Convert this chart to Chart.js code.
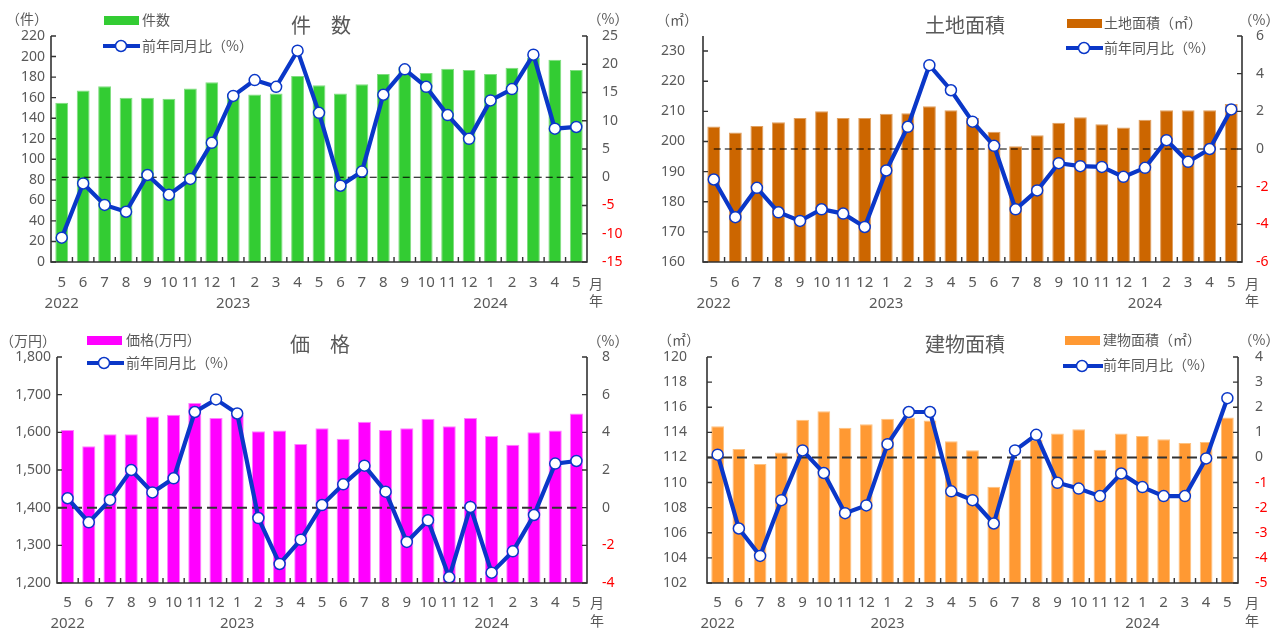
<!DOCTYPE html>
<html><head><meta charset="utf-8">
<script src="https://cdn.jsdelivr.net/npm/chart.js@4/dist/chart.umd.min.js"></script>
<style>
html,body{margin:0;padding:0;background:#fff;}
#wrap{position:relative;width:1282px;height:632px;overflow:hidden;background:#fff;}
canvas{position:absolute;}
</style></head><body><div id="wrap">
<canvas id="c1" width="641" height="316" style="left:0;top:0"></canvas>
<canvas id="c2" width="641" height="316" style="left:641px;top:0"></canvas>
<canvas id="c3" width="641" height="316" style="left:0;top:316px"></canvas>
<canvas id="c4" width="641" height="316" style="left:641px;top:316px"></canvas>
</div>
<script>
const months = ['5','6','7','8','9','10','11','12','1','2','3','4','5','6','7','8','9','10','11','12','1','2','3','4','5'];
const yearLabels = ['2022','2023','2024'];
const yearIndex = [0, 8, 20];

const countBars = [155,167,171,160,160,159,169,175,162,163,164,181,172,164,173,183,190,184,188,187,183,189,199,197,187];
const countYoY = [-10.7,-1.1,-4.9,-6.1,0.4,-3.1,-0.3,6.1,14.4,17.2,16.0,22.4,11.4,-1.5,1.0,14.6,19.1,16.0,11.0,6.8,13.6,15.6,21.7,8.6,8.9];

const landBars = [205,203,205.1,206.4,207.8,210,207.8,207.8,209.2,209.4,211.7,210.4,207.8,203.2,198.4,202.1,206.2,208,205.7,204.6,207.2,210.4,210.4,210.4,212.4];
const landYoY = [-1.62,-3.62,-2.06,-3.36,-3.82,-3.2,-3.43,-4.14,-1.14,1.18,4.45,3.12,1.45,0.17,-3.2,-2.2,-0.75,-0.91,-0.95,-1.48,-1.0,0.47,-0.68,0.0,2.1];

const priceBars = [1606,1563,1595,1595,1642,1647,1678,1638,1647,1603,1605,1569,1611,1583,1628,1606,1611,1636,1616,1638,1590,1567,1600,1605,1650];
const priceYoY = [0.5,-0.78,0.41,2.0,0.81,1.56,5.08,5.75,5.0,-0.55,-2.99,-1.7,0.14,1.24,2.23,0.85,-1.82,-0.67,-3.7,0.04,-3.45,-2.32,-0.39,2.34,2.48];

const bldgBars = [114.48,112.67,111.48,112.4,115.0,115.67,114.37,114.64,115.09,115.19,114.95,113.28,112.57,109.67,111.8,113.4,113.9,114.24,112.62,113.9,113.7,113.44,113.15,113.23,115.19];
const bldgYoY = [0.11,-2.83,-3.92,-1.7,0.28,-0.62,-2.22,-1.91,0.53,1.81,1.81,-1.35,-1.7,-2.63,0.28,0.9,-1.01,-1.24,-1.54,-0.64,-1.18,-1.54,-1.54,-0.04,2.36];

const BLUE = '#0a37c8';
const GREY = '#595959';
const FAM = '"Noto Sans", "Noto Sans CJK JP", sans-serif';
const JFAM = '"Noto Sans CJK JP", "Noto Sans", sans-serif';

function deco(p){
  return {
    id:'deco',
    afterDatasetDraw(chart,args){
      if(args.index!==1) return;
      const ctx=chart.ctx, a=chart.chartArea, xs=chart.scales.x;
      const v=chart.scales.y1.getPixelForValue(0);
      const x1 = p.dash.fromFirst ? xs.getPixelForValue(0) : a.left;
      const x2 = p.dash.toLast ? xs.getPixelForValue(months.length-1) - p.dash.trim : a.right;
      ctx.save(); ctx.strokeStyle=p.dash.color; ctx.lineWidth=p.dash.w; ctx.setLineDash(p.dash.d);
      ctx.beginPath(); ctx.moveTo(x1,v); ctx.lineTo(x2,v); ctx.stroke(); ctx.restore();
    },
    afterDraw(chart){
      const ctx=chart.ctx, a=chart.chartArea, xs=chart.scales.x, yl=chart.scales.y, yr=chart.scales.y1;
      ctx.save();
      ctx.strokeStyle='#333'; ctx.lineWidth=1.6;
      ctx.beginPath();
      ctx.moveTo(a.left,a.top); ctx.lineTo(a.left,a.bottom); ctx.lineTo(a.right,a.bottom); ctx.lineTo(a.right,a.top);
      ctx.stroke();
      ctx.lineWidth=1.4;
      ctx.beginPath();
      yl.ticks.forEach(t=>{const py=yl.getPixelForValue(t.value); ctx.moveTo(a.left,py); ctx.lineTo(a.left+5,py);});
      yr.ticks.forEach(t=>{const py=yr.getPixelForValue(t.value); ctx.moveTo(a.right-5,py); ctx.lineTo(a.right,py);});
      for(let i=1;i<months.length;i++){
        const px=(xs.getPixelForValue(i-1)+xs.getPixelForValue(i))/2;
        ctx.moveTo(px,a.bottom-5); ctx.lineTo(px,a.bottom);
      }
      ctx.stroke();
      ctx.textBaseline='middle';
      p.texts.forEach(t=>{
        ctx.fillStyle=t.color||GREY;
        ctx.font=t.size+'px '+JFAM;
        ctx.textAlign=t.align||'center';
        ctx.fillText(t.t,t.x,t.y);
      });
      ctx.font='15px '+FAM; ctx.fillStyle=GREY; ctx.textAlign='center';
      yearLabels.forEach((y,i)=>{ ctx.fillText(y, xs.getPixelForValue(yearIndex[i]), p.yearY); });
      ctx.font='14px '+JFAM;
      ctx.fillText('月', p.mx, p.my1);
      ctx.fillText('年', p.mx, p.my2);
      ctx.fillStyle=p.color;
      ctx.fillRect(p.box.x,p.box.y,p.box.w,p.box.h);
      ctx.strokeStyle=BLUE; ctx.lineWidth=4;
      ctx.beginPath(); ctx.moveTo(p.lline.x1,p.lline.y); ctx.lineTo(p.lline.x2,p.lline.y); ctx.stroke();
      ctx.beginPath(); ctx.arc(p.lline.cx,p.lline.y,5.5,0,Math.PI*2);
      ctx.fillStyle='#fff'; ctx.fill(); ctx.lineWidth=1.5; ctx.stroke();
      ctx.restore();
    }
  };
}

function makeChart(id, p){
  const redNeg = c => (c.tick && c.tick.value<0) ? '#ff0000' : GREY;
  new Chart(document.getElementById(id), {
    data:{
      labels: months,
      datasets:[
        {type:'line', data:p.yoy, yAxisID:'y1', order:0, borderColor:BLUE, borderWidth:4.2,
         pointRadius:5.5, pointHoverRadius:5.5, pointBorderWidth:1.5, pointBackgroundColor:'#fff', pointBorderColor:BLUE, tension:0},
        {type:'bar', data:p.bars, yAxisID:'y', order:1, backgroundColor:p.color, borderColor:p.edge, borderWidth:1,
         barPercentage:p.bp, categoryPercentage:1}
      ]
    },
    options:{
      responsive:false, animation:false, devicePixelRatio:1,
      layout:{padding:{top:p.area.top,left:0,right:0,bottom:0}},
      plugins:{legend:{display:false}, tooltip:{enabled:false}},
      scales:{
        x:{grid:{display:false,drawTicks:false}, border:{display:false},
           ticks:{font:{size:15,family:FAM}, color:GREY, padding:p.xpad, maxRotation:0, autoSkip:false},
           afterFit(s){ s.height=p.area.xh; }},
        y:{position:'left', min:p.yl.min, max:p.yl.max, grid:{display:false,drawTicks:false}, border:{display:false},
           ticks:{stepSize:p.yl.step, font:{size:14,family:FAM}, color:GREY, padding:p.yl.pad},
           afterBuildTicks(s){
             if(p.yl.lim!==undefined){
               const out=[];
               for(let v=p.yl.min; v<=p.yl.lim+1e-9; v+=p.yl.step) out.push({value:v});
               s.ticks=out;
             }
           },
           afterFit(s){ s.width=p.area.left; }},
        y1:{position:'right', min:p.yr.min, max:p.yr.max, grid:{display:false,drawTicks:false}, border:{display:false},
           ticks:{stepSize:p.yr.step, font:{size:14,family:FAM}, color:redNeg, padding:p.yr.pad},
           afterFit(s){ s.width=p.area.rw; }}
      }
    },
    plugins:[deco(p)]
  });
}

makeChart('c1', {
  bars:countBars, yoy:countYoY, color:'#33cc33', edge:'#80dd80', bp:0.6,
  area:{left:51, rw:54, top:36, xh:54}, xpad:12,
  yl:{min:0,max:220,step:20,pad:6}, yr:{min:-15,max:25,step:5,pad:15},
  dash:{fromFirst:true,toLast:true,trim:3,color:'#000',w:1.2,d:[7,4]},
  texts:[
    {t:'（件）',x:27,y:19,size:14},
    {t:'（%）',x:608,y:19,size:14},
    {t:'件　数',x:321,y:25,size:20},
    {t:'件数',x:142,y:20,size:14,align:'left'},
    {t:'前年同月比（%）',x:142,y:46,size:14,align:'left'}
  ],
  box:{x:104,y:16,w:35,h:9}, lline:{x1:103,x2:140,y:46,cx:121},
  yearY:304, mx:596, my1:284, my2:301
});

makeChart('c2', {
  bars:landBars, yoy:landYoY, color:'#cc6600', edge:'#e0a060', bp:0.6,
  area:{left:62, rw:40, top:36, xh:54}, xpad:12,
  yl:{min:160,max:235,step:10,pad:18,lim:230}, yr:{min:-6,max:6,step:2,pad:14},
  dash:{fromFirst:true,toLast:false,trim:0,color:'#000',w:1.2,d:[7,4]},
  texts:[
    {t:'（㎡）',x:36,y:20,size:14},
    {t:'（%）',x:618,y:20,size:14},
    {t:'土地面積',x:324,y:25,size:20},
    {t:'土地面積（㎡）',x:463,y:23,size:14,align:'left'},
    {t:'前年同月比（%）',x:463,y:48,size:14,align:'left'}
  ],
  box:{x:426,y:19,w:35,h:9}, lline:{x1:425,x2:462,y:48,cx:443},
  yearY:304, mx:611, my1:284, my2:301
});

makeChart('c3', {
  bars:priceBars, yoy:priceYoY, color:'#ff00ff', edge:'#ff80ff', bp:0.62,
  area:{left:57, rw:54, top:41, xh:49}, xpad:11,
  yl:{min:1200,max:1800,step:100,pad:6}, yr:{min:-4,max:8,step:2,pad:15},
  dash:{fromFirst:false,toLast:true,trim:0,color:'#333',w:2,d:[10,5]},
  texts:[
    {t:'（万円）',x:28,y:25,size:14},
    {t:'（%）',x:608,y:25,size:14},
    {t:'価　格',x:320,y:28,size:20},
    {t:'価格(万円）',x:126,y:24,size:14,align:'left'},
    {t:'前年同月比（%）',x:126,y:47,size:14,align:'left'}
  ],
  box:{x:87,y:20,w:35,h:9}, lline:{x1:87,x2:124,y:47,cx:104},
  yearY:308, mx:597, my1:287, my2:305
});

makeChart('c4', {
  bars:bldgBars, yoy:bldgYoY, color:'#ff9933', edge:'#ffc27f', bp:0.6,
  area:{left:66, rw:44, top:41, xh:49}, xpad:11,
  yl:{min:102,max:120,step:2,pad:20}, yr:{min:-5,max:4,step:1,pad:17},
  dash:{fromFirst:false,toLast:false,trim:0,color:'#333',w:2,d:[10,5]},
  texts:[
    {t:'（㎡）',x:38,y:24,size:14},
    {t:'（%）',x:618,y:24,size:14},
    {t:'建物面積',x:324,y:28,size:20},
    {t:'建物面積（㎡）',x:462,y:24,size:14,align:'left'},
    {t:'前年同月比（%）',x:462,y:49,size:14,align:'left'}
  ],
  box:{x:424,y:20,w:35,h:9}, lline:{x1:422,x2:462,y:50,cx:441},
  yearY:308, mx:611, my1:287, my2:305
});
</script>
</body></html>
